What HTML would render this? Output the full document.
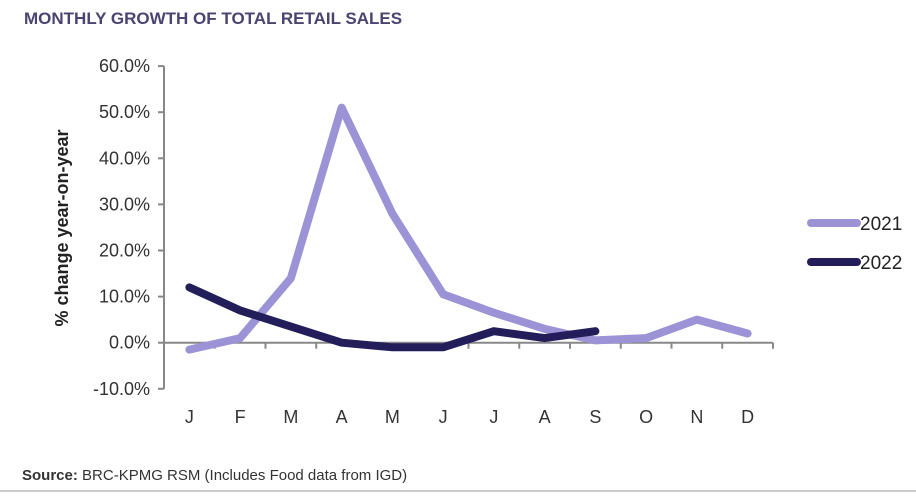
<!DOCTYPE html>
<html><head><meta charset="utf-8"><style>
body{margin:0;background:#fff;width:916px;height:492px;overflow:hidden;font-family:"Liberation Sans",sans-serif}
</style></head><body>
<svg width="916" height="492" viewBox="0 0 916 492">
<text x="24" y="24" font-size="17" font-weight="bold" fill="#4a4470">MONTHLY GROWTH OF TOTAL RETAIL SALES</text>
<text transform="translate(68,228) rotate(-90)" text-anchor="middle" font-size="18" font-weight="bold" fill="#222">% change year-on-year</text>
<g id="axes"></g>
<g id="series"></g>
<g>
<line x1="811" y1="223" x2="857" y2="223" stroke="#9b93d6" stroke-width="8" stroke-linecap="round"/>
<text x="860" y="230" font-size="19" fill="#222">2021</text>
<line x1="811" y1="262" x2="857" y2="262" stroke="#231d5a" stroke-width="8" stroke-linecap="round"/>
<text x="860" y="269" font-size="19" fill="#222">2022</text>
</g>
<text x="22" y="480" font-size="15" fill="#333"><tspan font-weight="bold">Source:</tspan> BRC-KPMG RSM (Includes Food data from IGD)</text>
<line x1="0" y1="491" x2="916" y2="491" stroke="#ccc" stroke-width="2"/>
</svg>
<script>
const months=["J","F","M","A","M","J","J","A","S","O","N","D"];
const yTicks=[-10,0,10,20,30,40,50,60];
const values2021=[-1.5,1,14,51,28,10.5,6.5,3,0.5,1,5,2];
const values2022=[12,7,3.5,0,-1,-1,2.5,1,2.5];
const NS="http://www.w3.org/2000/svg";
const x0=164,x1=773,bw=(x1-x0)/12;
const yScale=v=>342.7-v*4.61;
const xScale=i=>x0+bw*(i+0.5);
const axes=document.getElementById('axes');
function mk(tag,attrs,parent){const e=document.createElementNS(NS,tag);for(const k in attrs)e.setAttribute(k,attrs[k]);parent.appendChild(e);return e;}
let yl=mk('line',{x1:x0,y1:yScale(60),x2:x0,y2:yScale(-10),stroke:'#888','stroke-width':2},axes);


yTicks.forEach(t=>{
 const tk=mk('line',{x1:x0-6,y1:yScale(t),x2:x0,y2:yScale(t),stroke:'#888','stroke-width':2},axes);
 
 
 const tx=mk('text',{x:x0-14,y:yScale(t)+6,'text-anchor':'end','font-size':18,fill:'#333'},axes);
 tx.textContent=t.toFixed(1)+'%';
 
 
});
let xl=mk('line',{x1:x0,y1:yScale(0),x2:x1,y2:yScale(0),stroke:'#888','stroke-width':2},axes);


for(let i=1;i<=12;i++){
 const tk=mk('line',{x1:x0+bw*i,y1:yScale(0),x2:x0+bw*i,y2:yScale(0)+6,stroke:'#888','stroke-width':2},axes);
 
 
}
months.forEach((m,i)=>{
 const tx=mk('text',{x:xScale(i),y:423,'text-anchor':'middle','font-size':18,fill:'#333'},axes);
 tx.textContent=m;
 
 
});
const ser=document.getElementById('series');
function line(vals,color,name){
 const p=mk('polyline',{points:vals.map((v,i)=>xScale(i)+','+yScale(v)).join(' '),fill:'none',stroke:color,'stroke-width':8,'stroke-linejoin':'round','stroke-linecap':'round'},ser);
 
 
}
line(values2021,'#9b93d6','line-2021');
line(values2022,'#231d5a','line-2022');
</script>
</body></html>
